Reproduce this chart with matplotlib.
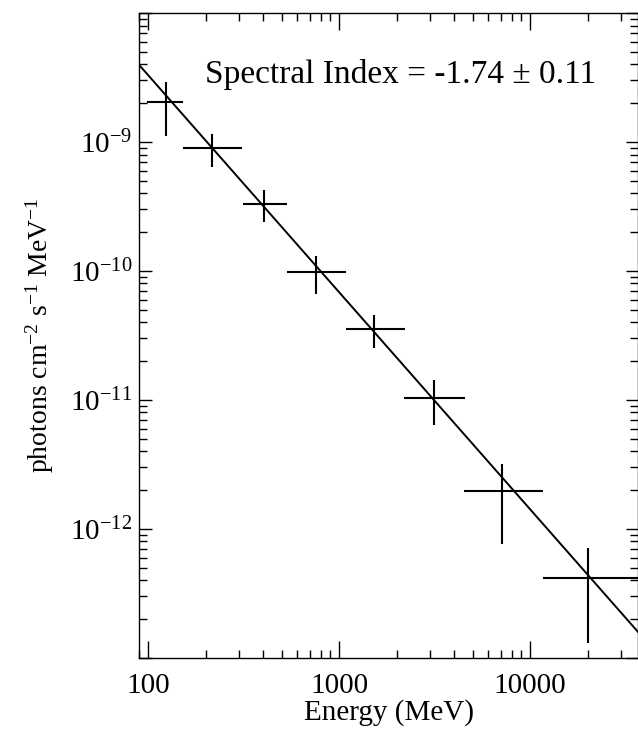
import numpy as np
import matplotlib
matplotlib.use("Agg")
import matplotlib.pyplot as plt
from matplotlib.ticker import LogLocator, FixedLocator, NullFormatter

# Spectrum points (MeV, photons cm^-2 s^-1 MeV^-1)
energy = [124, 215, 405, 755, 1530, 3120, 7160, 20200]
e_low = [99, 153, 313, 532, 1084, 2197, 4530, 11640]
e_high = [152, 309, 532, 1080, 2223, 4550, 11640, 50000]
flux = [2.03e-9, 9.0e-10, 3.33e-10, 9.9e-11, 3.53e-11, 1.03e-11, 1.97e-12, 4.17e-13]
flux_low = [1.11e-9, 6.44e-10, 2.40e-10, 6.6e-11, 2.52e-11, 6.4e-12, 7.6e-13, 1.3e-13]
flux_high = [2.92e-9, 1.15e-9, 4.25e-10, 1.31e-10, 4.56e-11, 1.43e-11, 3.18e-12, 7.08e-13]

# power-law fit line as drawn
fit_norm = 3.3e-9  # flux at 100 MeV
fit_index = -1.683

x_ticks = [100, 1000, 10000]
x_ticklabels = ["100", "1000", "10000"]
y_ticks = [1e-12, 1e-11, 1e-10, 1e-9]
y_ticklabels = [r"$10^{-12}$", r"$10^{-11}$", r"$10^{-10}$", r"$10^{-9}$"]

plt.rcParams["font.family"] = ["Liberation Serif", "DejaVu Serif"]
plt.rcParams["mathtext.fontset"] = "custom"
plt.rcParams["mathtext.rm"] = "Liberation Serif"
plt.rcParams["mathtext.it"] = "Liberation Serif"

fig = plt.figure(figsize=(6.38, 7.31), dpi=100)
ax = fig.add_axes([0.218, 0.0999, 0.782, 0.8823])

energy = np.array(energy)
flux = np.array(flux)
xerr = [energy - np.array(e_low), np.array(e_high) - energy]
yerr = [flux - np.array(flux_low), np.array(flux_high) - flux]
ax.errorbar(energy, flux, xerr=xerr, yerr=yerr, fmt="none",
            ecolor="black", elinewidth=1.5, capsize=0)

xs = np.logspace(np.log10(80), np.log10(40000), 200)
ax.plot(xs, fit_norm * (xs / 100.0) ** fit_index, color="black", lw=1.4)

ax.set_xscale("log")
ax.set_yscale("log")
ax.set_xlim(89.7, 36700)
ax.set_ylim(1e-13, 1e-8)

ax.xaxis.set_major_locator(FixedLocator(x_ticks))
ax.set_xticklabels(x_ticklabels)
ax.xaxis.set_minor_locator(LogLocator(base=10, subs=np.arange(2, 10)))
ax.xaxis.set_minor_formatter(NullFormatter())
ax.yaxis.set_major_locator(FixedLocator(y_ticks + [1e-13, 1e-8]))
ax.set_yticklabels(y_ticklabels + ["", ""])
ax.yaxis.set_minor_locator(LogLocator(base=10, subs=np.arange(2, 10)))
ax.yaxis.set_minor_formatter(NullFormatter())

ax.tick_params(which="both", direction="in", top=True, right=True,
               labelsize=21, width=1)
ax.tick_params(which="major", length=12)
ax.tick_params(which="minor", length=6)
ax.tick_params(axis="x", which="major", pad=11)
ax.tick_params(axis="y", which="major", length=9, pad=5)
for s in ax.spines.values():
    s.set_linewidth(1)

ax.set_xlabel("Energy (MeV)", fontsize=21, labelpad=0)
ax.set_ylabel(r"photons cm$^{-2}$ s$^{-1}$ MeV$^{-1}$", fontsize=20, labelpad=10)

ax.text(0.132, 0.891, "Spectral Index = -1.74 \u00b1 0.11",
        transform=ax.transAxes, fontsize=24, va="baseline", ha="left")

fig.savefig("out.png", dpi=100)
